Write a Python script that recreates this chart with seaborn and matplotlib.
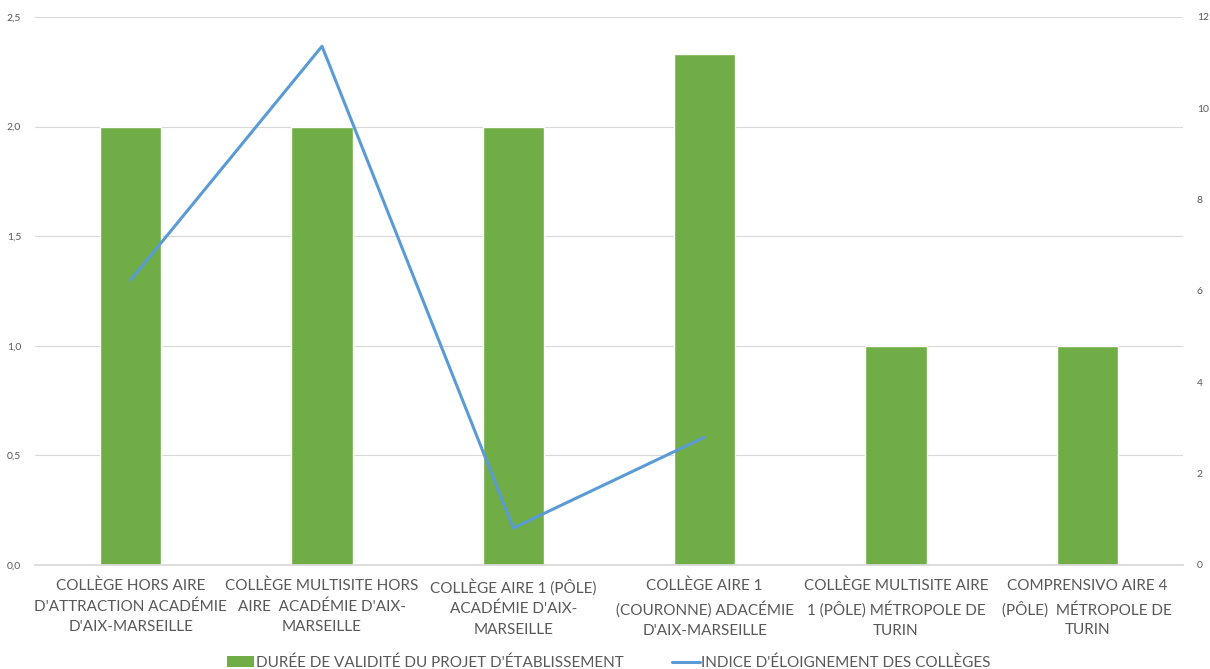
import matplotlib
matplotlib.use("Agg")
import matplotlib.pyplot as plt
from matplotlib.patches import Patch
from matplotlib.lines import Line2D
from matplotlib.ticker import FuncFormatter, MultipleLocator
import seaborn as sns
import pandas as pd
import numpy as np

# ---- data ----
categories = [
    "COLLÈGE HORS AIRE\nD'ATTRACTION ACADÉMIE\nD'AIX-MARSEILLE",
    "COLLÈGE MULTISITE HORS\nAIRE  ACADÉMIE D'AIX-\nMARSEILLE",
    "COLLÈGE AIRE 1 (PÔLE)\nACADÉMIE D'AIX-\nMARSEILLE",
    "COLLÈGE AIRE 1\n(COURONNE) ADACÉMIE\nD'AIX-MARSEILLE",
    "COLLÈGE MULTISITE AIRE\n1 (PÔLE) MÉTROPOLE DE\nTURIN",
    "COMPRENSIVO AIRE 4\n(PÔLE)  MÉTROPOLE DE\nTURIN",
]
duree = [2.0, 2.0, 2.0, 2.33, 1.0, 1.0]
indice = [6.24, 11.36, 0.81, 2.80, np.nan, np.nan]

bar_label = "DURÉE DE VALIDITÉ DU PROJET D'ÉTABLISSEMENT"
line_label = "INDICE D'ÉLOIGNEMENT DES COLLÈGES"

df = pd.DataFrame({"cat": categories, "duree": duree, "indice": indice,
                   "pos": np.arange(len(categories))})

# ---- style ----
sns.set_theme(style="white")
plt.rcParams["font.family"] = ["Lato", "DejaVu Sans"]
text_col = "#595959"
green = "#70AD47"
blue = "#5B9BD5"

fig = plt.figure(figsize=(12.1, 6.69), dpi=100)
ax = fig.add_axes([35 / 1210, 104 / 669, (1183 - 35) / 1210, (565 - 17) / 669])

sns.barplot(data=df, x="cat", y="duree", color=green, width=0.32,
            saturation=1, ax=ax)
ax.set_ylim(0, 2.5)
ax.yaxis.set_major_locator(MultipleLocator(0.5))
ax.yaxis.set_major_formatter(FuncFormatter(lambda v, p: f"{v:.1f}".replace(".", ",")))
ax.grid(axis="y", color="#D9D9D9", linewidth=0.8)
ax.set_axisbelow(True)
ax.set_xlabel("")
ax.set_ylabel("")
ax.tick_params(axis="y", labelsize=7.5, colors=text_col, length=0, pad=10)
ax.tick_params(axis="x", labelsize=11, colors=text_col, length=0, pad=10)
for lab in ax.get_xticklabels():
    lab.set_linespacing(1.55)
for s in ax.spines.values():
    s.set_visible(False)
ax.spines["bottom"].set_visible(True)
ax.spines["bottom"].set_color("#D9D9D9")

ax2 = ax.twinx()
sns.lineplot(data=df, x="pos", y="indice", color=blue, linewidth=2.2, ax=ax2)
ax2.set_ylim(0, 12)
ax2.yaxis.set_major_locator(MultipleLocator(2))
ax2.tick_params(axis="y", labelsize=7.5, colors=text_col, length=0, pad=10)
ax2.set_ylabel("")
ax2.set_xlabel("")
ax2.grid(False)
for s in ax2.spines.values():
    s.set_visible(False)
ax.set_xlim(-0.5, len(categories) - 0.5)

handles = [Patch(facecolor=green, edgecolor="none", label=bar_label),
           Line2D([0], [0], color=blue, linewidth=2.2, label=line_label)]
fig.legend(handles=handles, loc="lower center", ncol=2, frameon=False,
           bbox_to_anchor=(0.503, -0.022), fontsize=11, labelcolor=text_col,
           handlelength=1.8, handletextpad=0.1, columnspacing=3.2)

fig.savefig("out.png", dpi=100)
